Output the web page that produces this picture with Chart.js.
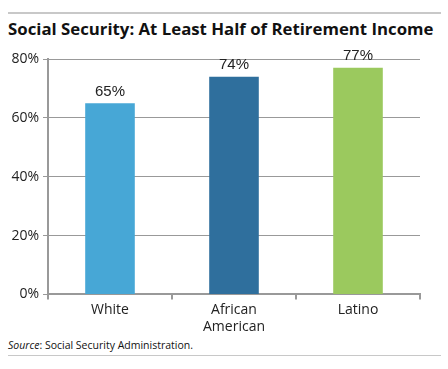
<!DOCTYPE html>
<html>
<head>
<meta charset="utf-8">
<script src="https://cdn.jsdelivr.net/npm/chart.js@4"></script>
<style>
  body { margin: 0; width: 448px; height: 369px; background: #fff; position: relative; overflow: hidden; }
  .rule { position: absolute; left: 8px; width: 433px; height: 2px; background: #c8c8c8; }
  #title { position: absolute; left: 8px; top: 17px; font: bold 16.8px "Open Sans", sans-serif; color: #111; }
  #source { position: absolute; left: 8px; top: 338px; font: 10.5px "Open Sans", sans-serif; color: #111; }
  #wrap { position: absolute; left: 0; top: 45px; width: 448px; height: 292px; }
</style>
</head>
<body>
<div class="rule" style="top:12px"></div>
<div id="title">Social Security: At Least Half of Retirement Income</div>
<div id="wrap"><canvas id="chart"></canvas></div>
<div id="source"><i>Source</i>: Social Security Administration.</div>
<div class="rule" style="top:355px; height:1px"></div>
<script>
const categories = ["White", ["African", "American"], "Latino"];
const shares = [65, 74, 77];
const barColors = ["#47a7d6", "#2f6f9d", "#9bc95e"];
const yTicks = [0, 20, 40, 60, 80];

// draw the value above each bar
const valueLabels = {
  id: 'valueLabels',
  afterDatasetsDraw(chart) {
    const ctx = chart.ctx;
    const meta = chart.getDatasetMeta(0);
    ctx.save();
    ctx.font = '15px "Liberation Sans", Arial, sans-serif';
    ctx.fillStyle = '#222';
    ctx.textAlign = 'center';
    ctx.textBaseline = 'bottom';
    meta.data.forEach((bar, i) => {
      ctx.fillText(shares[i] + '%', bar.x, bar.y - 4);
    });
    ctx.restore();
  }
};

const ctx = document.getElementById('chart').getContext('2d');
new Chart(ctx, {
  type: 'bar',
  data: {
    labels: categories,
    datasets: [{
      data: shares,
      backgroundColor: barColors,
      barPercentage: 0.4,
      categoryPercentage: 1,
    }],
  },
  options: {
    responsive: true,
    maintainAspectRatio: false,
    animation: false,
    layout: { padding: { left: 0, right: 28, top: 14, bottom: 0 } },
    plugins: {
      legend: { display: false },
      tooltip: { enabled: false },
    },
    scales: {
      y: {
        min: 0,
        max: 80,
        afterBuildTicks: (scale) => { scale.ticks = yTicks.map(v => ({ value: v })); },
        afterFit: (scale) => { scale.width = 48; },
        border: { color: '#999', width: 2 },
        grid: { color: '#999', lineWidth: 1, tickLength: 5 },
        ticks: {
          color: '#222',
          padding: 4,
          font: { family: '"Open Sans", sans-serif', size: 14 },
          callback: (v) => v + '%',
        },
      },
      x: {
        border: { color: '#999', width: 2 },
        grid: { drawOnChartArea: false, color: '#999', lineWidth: 2, tickLength: 5, offset: true },
        ticks: {
          color: '#222',
          padding: 2,
          font: { family: '"Open Sans", sans-serif', size: 14 },
        },
      },
    },
  },
  plugins: [valueLabels],
});
</script>
</body>
</html>
